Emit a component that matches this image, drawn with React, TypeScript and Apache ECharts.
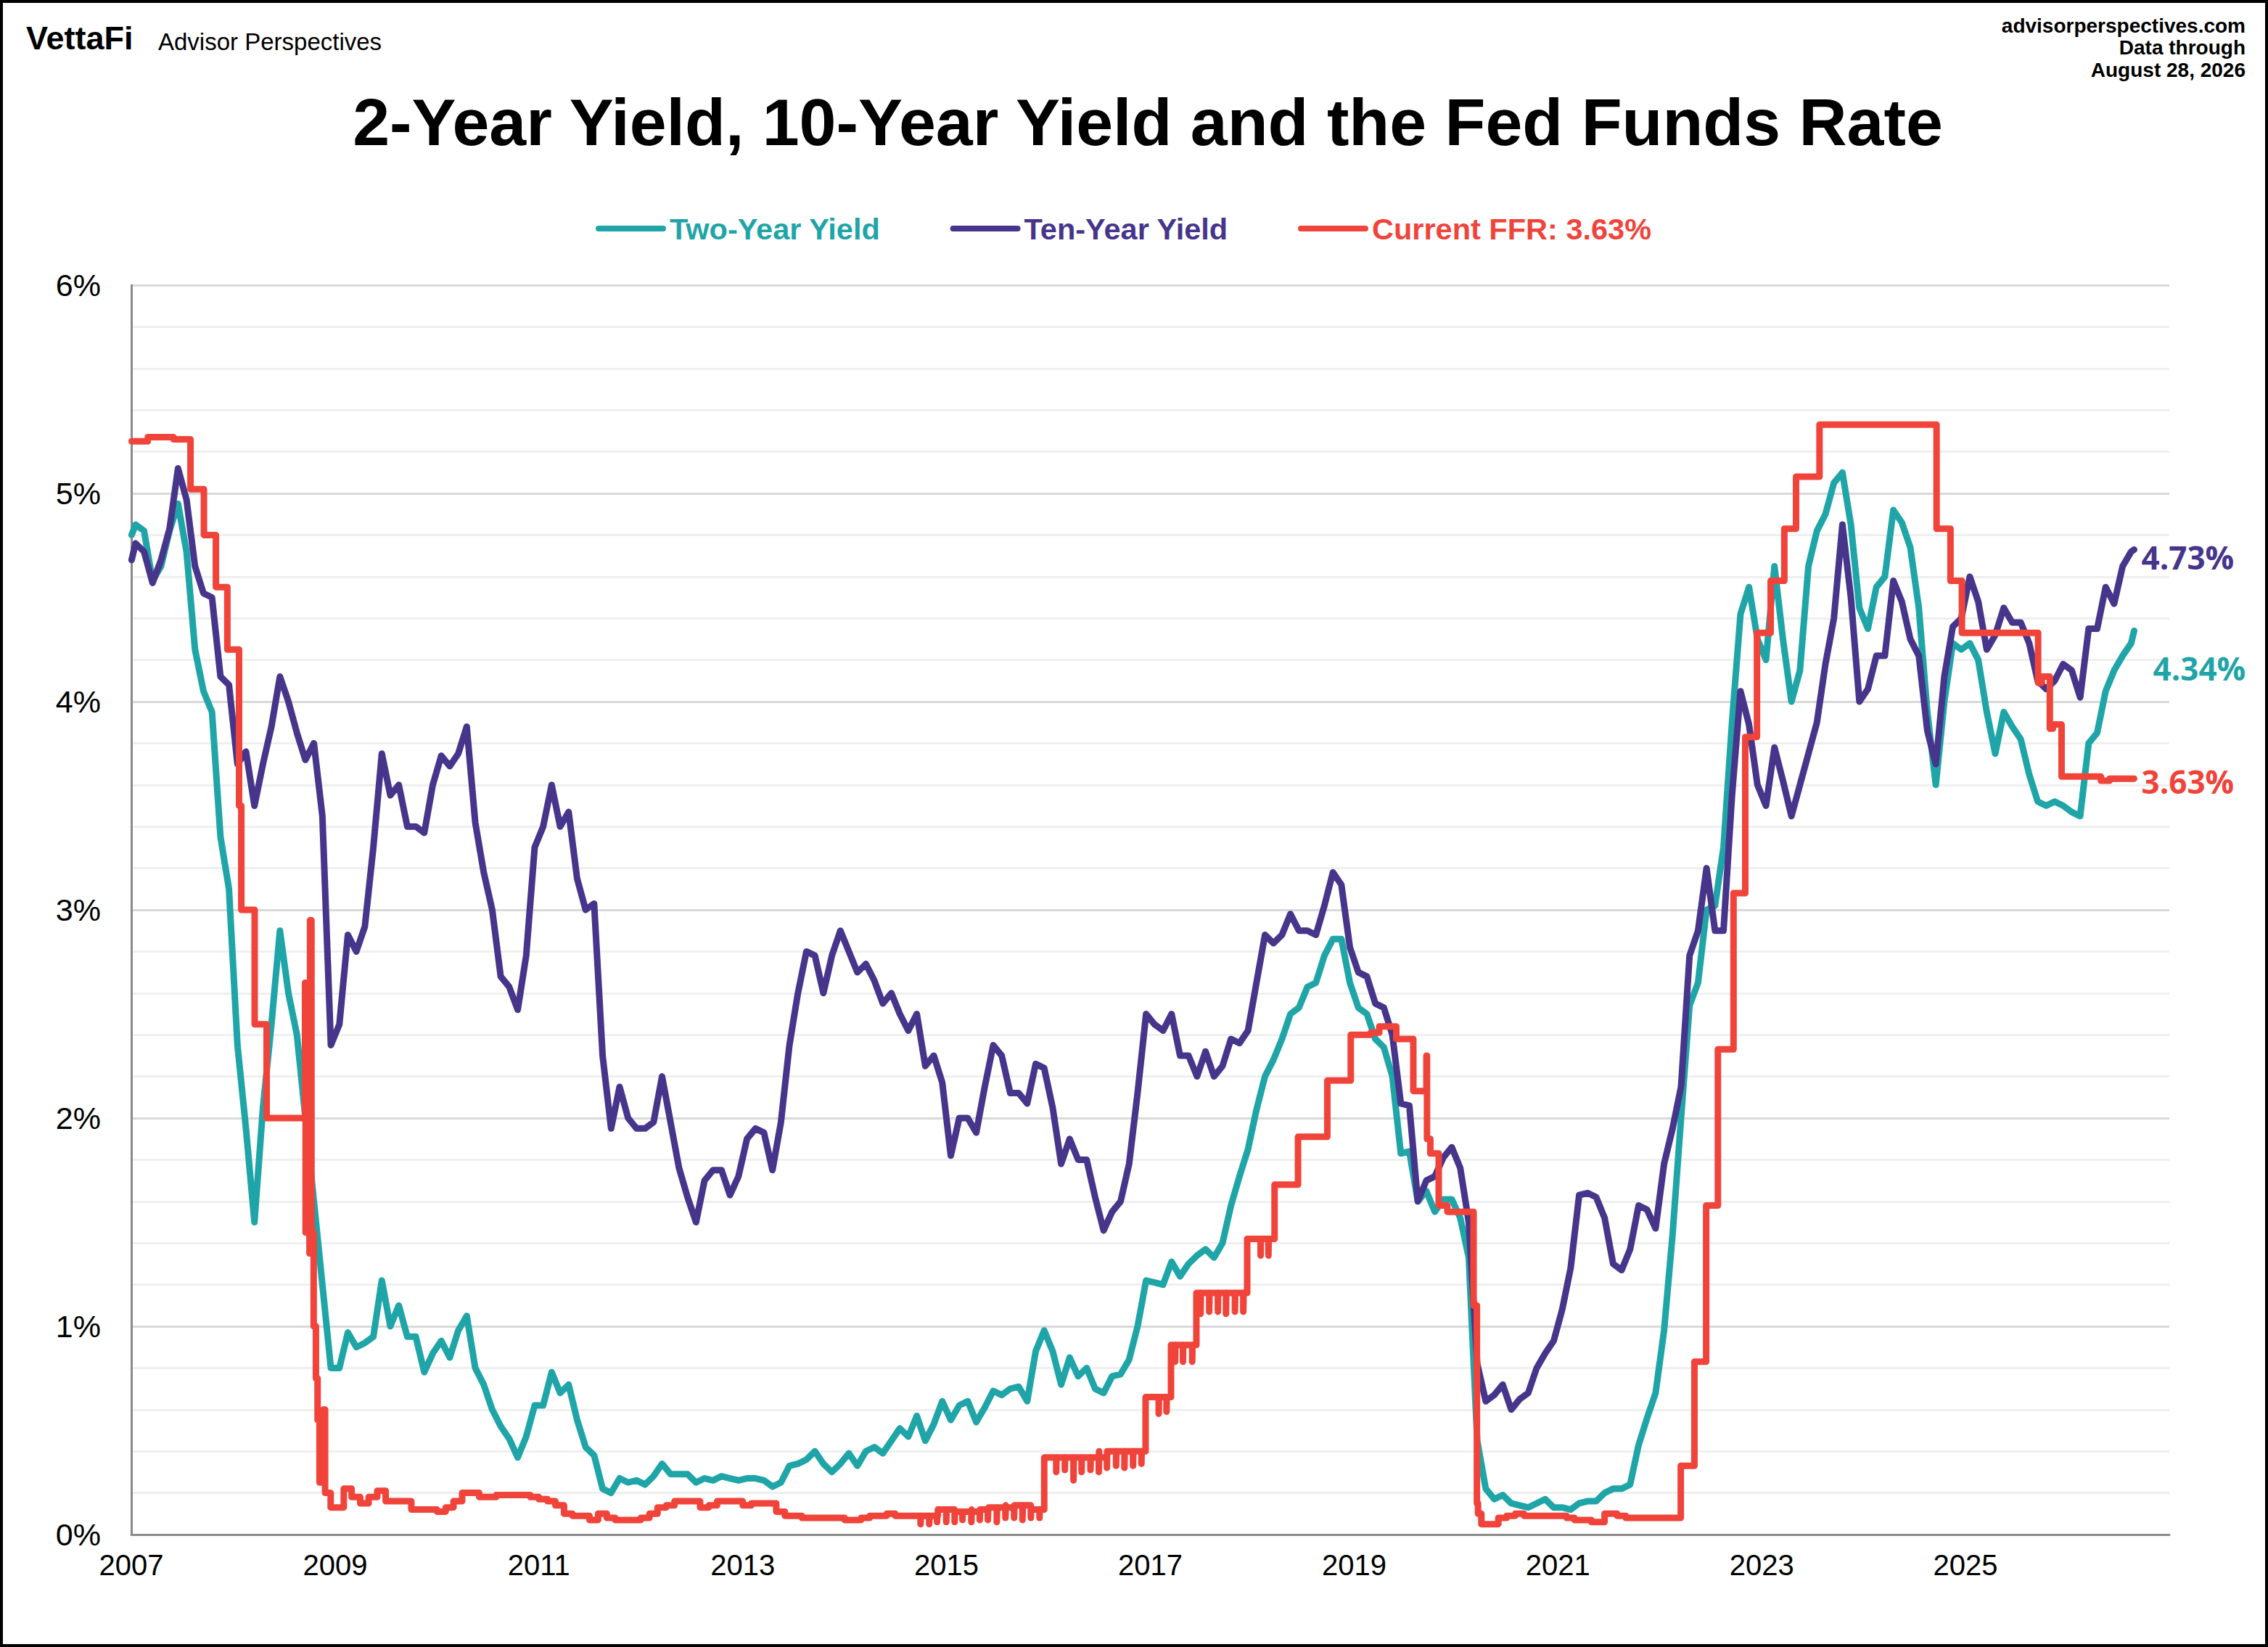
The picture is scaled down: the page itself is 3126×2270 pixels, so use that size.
import React, { useEffect, useRef } from "react";
import * as echarts from "echarts";

const W = 3126;
const H = 2270;

const TITLE = "2-Year Yield, 10-Year Yield and the Fed Funds Rate";
const SOURCE_LINES = ["advisorperspectives.com", "Data through", "August 28, 2026"];
const SERIES_NAMES = ["Two-Year Yield", "Ten-Year Yield", "Current FFR: 3.63%"];
const COLORS = ["#1FA5A8", "#46358B", "#F0443B"];

const X_MIN = 2007;
const X_MAX = 2027;
const X_STEP = 2;
const Y_MIN = 0;
const Y_MAX = 6;

const START_DATE = "2007-01-02";
const END_DATE = "2026-08-28";
const TWO_YEAR_FIRST = 4.8;
const TEN_YEAR_FIRST = 4.68;
const TWO_YEAR_LAST = 4.34;
const TEN_YEAR_LAST = 4.73;
const FFR_LAST = 3.63;

// monthly readings, Jan 2007 .. Aug 2026 (one row per year)
const twoYearMonthly = [
  4.85, 4.82, 4.58, 4.65, 4.82, 4.95, 4.72, 4.25, 4.05, 3.95, 3.35, 3.1,
  2.35, 1.95, 1.5, 2.05, 2.45, 2.9, 2.6, 2.4, 2.0, 1.6, 1.2, 0.8,
  0.8, 0.97, 0.9, 0.92, 0.95, 1.22, 1.0, 1.1, 0.95, 0.95, 0.78, 0.87,
  0.93, 0.85, 0.98, 1.05, 0.8, 0.72, 0.6, 0.52, 0.46, 0.37, 0.47, 0.62,
  0.62, 0.78, 0.68, 0.72, 0.55, 0.42, 0.38, 0.22, 0.2, 0.27, 0.25, 0.26,
  0.24, 0.28, 0.34, 0.29, 0.29, 0.29, 0.25, 0.27, 0.26, 0.28, 0.27, 0.26,
  0.27, 0.27, 0.26, 0.23, 0.25, 0.33, 0.34, 0.36, 0.4, 0.34, 0.3, 0.34,
  0.39, 0.33, 0.4, 0.42, 0.39, 0.45, 0.51, 0.47, 0.57, 0.45, 0.53, 0.64,
  0.55, 0.62, 0.64, 0.54, 0.61, 0.69, 0.67, 0.7, 0.71, 0.64, 0.88, 0.98,
  0.88, 0.72, 0.85, 0.76, 0.8, 0.7, 0.68, 0.76, 0.77, 0.84, 1.0, 1.22,
  1.21, 1.2, 1.31, 1.24, 1.3, 1.34, 1.37, 1.33, 1.4, 1.58, 1.72, 1.85,
  2.04, 2.2, 2.28, 2.38, 2.5, 2.53, 2.63, 2.65, 2.78, 2.86, 2.86, 2.65,
  2.53, 2.5, 2.38, 2.34, 2.2, 1.83, 1.84, 1.6, 1.65, 1.55, 1.61, 1.61,
  1.52, 1.33, 0.45, 0.22, 0.17, 0.19, 0.15, 0.14, 0.13, 0.15, 0.17, 0.13,
  0.13, 0.12, 0.15, 0.16, 0.16, 0.2, 0.22, 0.22, 0.24, 0.43, 0.56, 0.68,
  0.98, 1.44, 2.0, 2.54, 2.65, 3.0, 3.02, 3.3, 3.9, 4.42, 4.55, 4.3,
  4.2, 4.65, 4.3, 4.0, 4.15, 4.65, 4.82, 4.9, 5.05, 5.1, 4.85, 4.45,
  4.35, 4.55, 4.6, 4.92, 4.86, 4.74, 4.45, 3.95, 3.6, 4.0, 4.28, 4.25,
  4.28, 4.2, 3.95, 3.75, 3.95, 3.88, 3.82, 3.65, 3.52, 3.5, 3.52, 3.5,
  3.47, 3.45, 3.8, 3.85, 4.05, 4.15, 4.22, 4.28,
];

const tenYearMonthly = [
  4.76, 4.72, 4.57, 4.68, 4.83, 5.12, 4.97, 4.65, 4.52, 4.5, 4.12, 4.08,
  3.7, 3.76, 3.5, 3.7, 3.88, 4.12, 4.0, 3.85, 3.72, 3.8, 3.45, 2.35,
  2.45, 2.88, 2.8, 2.92, 3.3, 3.75, 3.55, 3.6, 3.4, 3.4, 3.37, 3.6,
  3.74, 3.69, 3.75, 3.88, 3.42, 3.18, 3.0, 2.68, 2.63, 2.52, 2.78, 3.3,
  3.4, 3.6, 3.4, 3.47, 3.15, 3.0, 3.03, 2.3, 1.95, 2.15, 2.0, 1.95,
  1.95, 1.98, 2.2, 1.98, 1.76, 1.62, 1.5, 1.7, 1.75, 1.75, 1.63, 1.72,
  1.9, 1.95, 1.93, 1.75, 1.98, 2.35, 2.6, 2.8, 2.78, 2.6, 2.78, 2.9,
  2.8, 2.7, 2.74, 2.66, 2.55, 2.6, 2.5, 2.42, 2.5, 2.25, 2.3, 2.17,
  1.82, 2.0, 2.0, 1.93, 2.15, 2.35, 2.3, 2.12, 2.12, 2.07, 2.26, 2.24,
  2.05, 1.78, 1.9, 1.8, 1.8, 1.62, 1.46, 1.55, 1.6, 1.78, 2.12, 2.5,
  2.45, 2.42, 2.5, 2.3, 2.3, 2.2, 2.32, 2.2, 2.25, 2.38, 2.36, 2.42,
  2.65, 2.88, 2.84, 2.88, 2.98, 2.9, 2.9, 2.88, 3.02, 3.18, 3.12, 2.82,
  2.7, 2.68, 2.55, 2.53, 2.4, 2.07, 2.06, 1.6, 1.7, 1.72, 1.81, 1.86,
  1.76, 1.5, 0.82, 0.64, 0.67, 0.72, 0.6, 0.65, 0.68, 0.8, 0.87, 0.93,
  1.08, 1.28, 1.63, 1.64, 1.62, 1.52, 1.3, 1.27, 1.37, 1.58, 1.56, 1.47,
  1.78, 1.95, 2.15, 2.78, 2.9, 3.2, 2.9, 2.9, 3.55, 4.05, 3.89, 3.6,
  3.5, 3.78, 3.62, 3.45, 3.6, 3.75, 3.9, 4.18, 4.4, 4.85, 4.5, 4.0,
  4.06, 4.22, 4.22, 4.58, 4.48, 4.3, 4.22, 3.86, 3.7, 4.12, 4.36, 4.4,
  4.6, 4.48, 4.25, 4.32, 4.45, 4.38, 4.38, 4.28, 4.1, 4.06, 4.1, 4.18,
  4.15, 4.02, 4.35, 4.35, 4.55, 4.47, 4.65, 4.72,
];

// effective fed funds rate: date the level starts, and the level
const ffrDates = [
  "2007-01-02", "2007-03-01", "2007-06-01", "2007-08-01", "2007-09-18", "2007-10-31", "2007-12-11",
  "2008-01-22", "2008-01-30", "2008-03-18", "2008-04-30", "2008-09-15", "2008-09-17", "2008-09-25",
  "2008-10-01", "2008-10-03", "2008-10-08", "2008-10-16", "2008-10-24", "2008-10-30", "2008-11-06",
  "2008-11-20", "2008-11-26", "2008-12-16",
  "2009-02-01", "2009-03-01", "2009-04-01", "2009-05-01", "2009-06-01", "2009-07-01", "2009-10-01",
  "2010-01-01", "2010-02-01", "2010-03-01", "2010-04-01", "2010-06-01", "2010-08-01", "2010-12-01",
  "2011-01-01", "2011-02-01", "2011-03-01", "2011-04-01", "2011-05-01", "2011-07-01", "2011-08-01",
  "2011-09-01", "2011-10-01",
  "2012-01-01", "2012-02-01", "2012-03-01", "2012-04-01", "2012-05-01", "2012-08-01", "2012-09-01",
  "2012-10-01",
  "2013-01-01", "2013-02-01", "2013-05-01", "2013-06-01", "2013-08-01",
  "2014-01-01", "2014-03-01", "2014-04-01", "2014-06-01", "2014-07-01", "2014-12-01",
  "2015-01-01", "2015-04-01", "2015-06-01", "2015-08-01", "2015-10-01", "2015-12-17",
  "2016-07-01", "2016-12-15",
  "2017-03-16", "2017-06-15", "2017-12-14",
  "2018-03-22", "2018-06-14", "2018-09-27", "2018-12-20",
  "2019-03-01", "2019-04-01", "2019-06-01", "2019-08-01", "2019-09-17", "2019-09-19", "2019-10-01",
  "2019-10-31", "2019-12-01",
  "2020-03-04", "2020-03-16", "2020-03-20", "2020-04-01", "2020-06-01", "2020-07-01", "2020-08-01",
  "2020-09-01",
  "2021-02-01", "2021-03-01", "2021-05-01", "2021-06-17", "2021-08-01", "2021-09-01",
  "2022-03-17", "2022-05-05", "2022-06-16", "2022-07-28", "2022-09-22", "2022-11-03", "2022-12-15",
  "2023-02-02", "2023-03-23", "2023-05-04", "2023-07-27",
  "2024-09-19", "2024-11-08", "2024-12-19",
  "2025-09-18", "2025-10-01", "2025-10-30", "2025-11-10", "2025-12-11",
  "2026-05-01", "2026-06-01", "2026-08-28",
];
const ffrValues = [
  5.25, 5.27, 5.26, 5.02, 4.8, 4.55, 4.25,
  3.5, 3.0, 2.45, 2.0, 2.65, 1.45, 2.1,
  1.35, 2.95, 1.45, 1.0, 0.75, 0.55, 0.25,
  0.6, 0.2, 0.13,
  0.22, 0.18, 0.15, 0.18, 0.21, 0.16, 0.12,
  0.11, 0.13, 0.16, 0.2, 0.18, 0.19, 0.18,
  0.17, 0.16, 0.14, 0.1, 0.09, 0.07, 0.1,
  0.08, 0.07,
  0.08, 0.1, 0.13, 0.14, 0.16, 0.13, 0.14,
  0.16,
  0.14, 0.15, 0.11, 0.09, 0.08,
  0.07, 0.08, 0.09, 0.1, 0.09, 0.12,
  0.11, 0.12, 0.13, 0.14, 0.12, 0.37,
  0.4, 0.66,
  0.91, 1.16, 1.42,
  1.68, 1.91, 2.18, 2.4,
  2.41, 2.44, 2.38, 2.13, 2.3, 1.9, 1.83,
  1.58, 1.55,
  1.1, 0.15, 0.1, 0.05, 0.08, 0.09, 0.1,
  0.09,
  0.08, 0.07, 0.06, 0.1, 0.09, 0.08,
  0.33, 0.83, 1.58, 2.33, 3.08, 3.83, 4.33,
  4.58, 4.83, 5.08, 5.33,
  4.83, 4.58, 4.33,
  4.09, 4.12, 3.87, 3.89, 3.64,
  3.62, 3.63, 3.63,
];

// one-day month-end dips of the effective rate
const ffrDipDates = [
  "2014-09-30", "2014-10-31", "2014-11-28", "2014-12-31",
  "2015-01-30", "2015-02-27", "2015-03-31", "2015-04-30", "2015-05-29", "2015-06-30",
  "2015-07-31", "2015-08-31", "2015-09-30", "2015-10-30", "2015-11-30",
  "2016-01-29", "2016-02-29", "2016-03-31", "2016-04-29", "2016-05-31", "2016-06-30",
  "2016-07-29", "2016-08-31", "2016-09-30", "2016-10-31", "2016-11-30",
  "2017-01-31", "2017-02-28", "2017-03-31", "2017-04-28", "2017-05-31", "2017-06-30",
  "2017-07-31", "2017-08-31", "2017-09-29", "2017-10-31", "2017-11-30",
  "2018-01-31", "2018-02-28",
];
const ffrDipValues = [
  0.05, 0.05, 0.06, 0.06,
  0.06, 0.07, 0.06, 0.07, 0.07, 0.06,
  0.08, 0.08, 0.07, 0.08, 0.08,
  0.3, 0.31, 0.26, 0.3, 0.31, 0.3,
  0.32, 0.33, 0.32, 0.33, 0.34,
  0.58, 0.59, 0.83, 0.83, 0.83, 1.06,
  1.07, 1.07, 1.06, 1.07, 1.07,
  1.34, 1.34,
];

const FONT = "'Liberation Sans', Arial, Helvetica, sans-serif";
const LABEL_FONT = "'Open Sans', 'Liberation Sans', Arial, sans-serif";

function toYear(s: string): number {
  const [y, m, d] = s.split("-").map(Number);
  const a = Date.UTC(y, 0, 1);
  const b = Date.UTC(y + 1, 0, 1);
  return y + (Date.UTC(y, m - 1, d) - a) / (b - a);
}

function monthlySeries(values: number[], first: number, last: number) {
  const pts: number[][] = [[toYear(START_DATE), first]];
  values.forEach((v, i) => pts.push([X_MIN + (i + 0.5) / 12, v]));
  pts.push([toYear(END_DATE), last]);
  return pts;
}

const twoYearData = monthlySeries(twoYearMonthly, TWO_YEAR_FIRST, TWO_YEAR_LAST);
const tenYearData = monthlySeries(tenYearMonthly, TEN_YEAR_FIRST, TEN_YEAR_LAST);

const ffrBase = ffrDates.map((d, i) => [toYear(d), ffrValues[i]]);
ffrBase[ffrBase.length - 1][1] = FFR_LAST;
function ffrLevelAt(x: number) {
  let v = ffrBase[0][1];
  for (const p of ffrBase) {
    if (p[0] <= x) v = p[1];
    else break;
  }
  return v;
}
const ffrDipPoints: number[][] = [];
ffrDipDates.forEach((d, i) => {
  const x = toYear(d);
  ffrDipPoints.push([x, ffrDipValues[i]]);
  ffrDipPoints.push([x + 1 / 365, ffrLevelAt(x)]);
});
const ffrData = [...ffrBase, ...ffrDipPoints].sort((a, b) => a[0] - b[0]);

const LEGEND_ICON = "path://M4 0H93A4 4 0 0 1 93 8H4A4 4 0 0 1 4 0Z";
const LINE_WIDTH = 9;

function endLabel(text: string, color: string, offset: number[]) {
  return {
    show: true,
    formatter: () => text,
    color,
    fontSize: 44,
    fontWeight: "bold",
    fontFamily: LABEL_FONT,
    distance: 10,
    offset,
  };
}

function lineSeries(i: number, data: number[][], label: any, extra: any = {}) {
  return {
    name: SERIES_NAMES[i],
    type: "line",
    data,
    showSymbol: false,
    symbol: "none",
    color: COLORS[i],
    lineStyle: { color: COLORS[i], width: LINE_WIDTH, join: "round", cap: "round" },
    endLabel: label,
    z: 2 + i,
    ...extra,
  };
}

const option: any = {
  animation: false,
  backgroundColor: "#ffffff",
  grid: { left: 181, right: 136, top: 393, bottom: 155, containLabel: false },
  legend: {
    left: 821,
    top: 294,
    padding: 0,
    icon: LEGEND_ICON,
    itemWidth: 97,
    itemHeight: 8,
    itemGap: 96,
    selectedMode: false,
    textStyle: { fontSize: 41.5, fontWeight: "bold", fontFamily: FONT },
    data: SERIES_NAMES.map((n, i) => ({ name: n, textStyle: { color: COLORS[i] } })),
  },
  xAxis: {
    type: "value",
    min: X_MIN,
    max: X_MAX,
    interval: X_STEP,
    axisLine: { show: true, lineStyle: { color: "#8a8a8a", width: 3 } },
    axisTick: { show: false },
    splitLine: { show: false },
    axisLabel: {
      show: true,
      margin: 22,
      fontSize: 40,
      color: "#000",
      fontFamily: FONT,
      showMaxLabel: false,
      formatter: (v: number) => String(Math.round(v)),
    },
  },
  yAxis: {
    type: "value",
    min: Y_MIN,
    max: Y_MAX,
    interval: 1,
    axisLine: { show: true, lineStyle: { color: "#8a8a8a", width: 3 } },
    axisTick: { show: false },
    minorTick: { show: false, splitNumber: 5 },
    splitLine: { show: true, lineStyle: { color: "#d9d9d9", width: 3 } },
    minorSplitLine: { show: true, lineStyle: { color: "#efefef", width: 3 } },
    axisLabel: {
      margin: 42,
      fontSize: 43,
      color: "#000",
      fontFamily: FONT,
      formatter: (v: number) => `${v}%`,
    },
  },
  series: [
    lineSeries(0, twoYearData, endLabel(`${TWO_YEAR_LAST.toFixed(2)}%`, COLORS[0], [16, 52])),
    lineSeries(1, tenYearData, endLabel(`${TEN_YEAR_LAST.toFixed(2)}%`, COLORS[1], [0, 11])),
    lineSeries(2, ffrData, endLabel(`${FFR_LAST.toFixed(2)}%`, COLORS[2], [0, 4]), { step: "end" }),
  ],
  graphic: [
    {
      type: "rect",
      silent: true,
      shape: { x: 0, y: 0, width: W, height: H },
      style: { fill: "none", stroke: "#000", lineWidth: 8 },
      z: 100,
    },
    {
      type: "text",
      x: 36,
      y: 52,
      style: { text: "VettaFi", font: `bold 45px ${FONT}`, fill: "#000", verticalAlign: "middle", align: "left" },
    },
    {
      type: "text",
      x: 218,
      y: 57,
      style: { text: "Advisor Perspectives", font: `33px ${FONT}`, fill: "#000", verticalAlign: "middle", align: "left" },
    },
    ...SOURCE_LINES.map((t, i) => ({
      type: "text",
      x: 3095,
      y: [35, 65, 96][i],
      style: { text: t, font: `bold 28px ${FONT}`, fill: "#000", verticalAlign: "middle", align: "right" },
    })),
    {
      type: "text",
      x: 1582,
      y: 168,
      style: { text: TITLE, font: `bold 91.5px ${FONT}`, fill: "#000", verticalAlign: "middle", align: "center" },
    },
  ],
};

export default function App() {
  const ref = useRef<HTMLDivElement>(null);
  useEffect(() => {
    if (!ref.current) return;
    const chart = echarts.init(ref.current, null, { renderer: "svg" });
    chart.setOption(option);
    return () => chart.dispose();
  }, []);
  return (
    <div
      ref={ref}
      style={{ position: "fixed", left: 0, top: 0, width: W, height: H, background: "#fff" }}
    />
  );
}
